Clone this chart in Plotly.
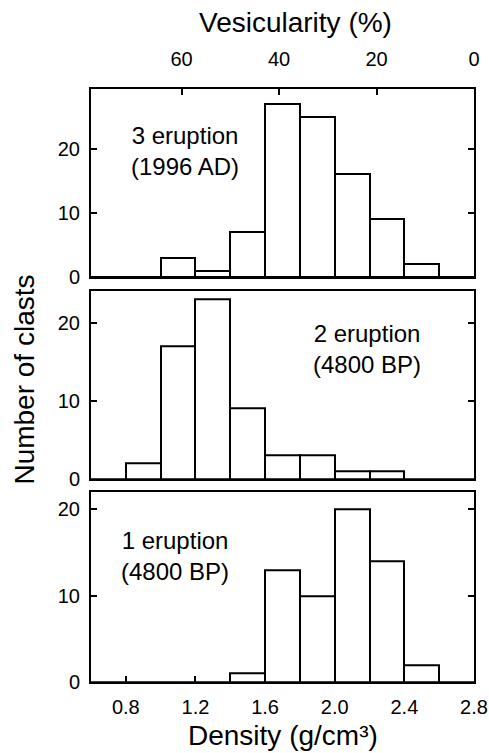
import plotly.graph_objects as go
from plotly.subplots import make_subplots

# Density bins (lower edges, g/cm3), bin width 0.2
bin_starts = [0.6, 0.8, 1.0, 1.2, 1.4, 1.6, 1.8, 2.0, 2.2, 2.4, 2.6]
bin_width = 0.2

# Number of clasts per bin
counts_1996 = [0, 0, 3, 1, 7, 27, 25, 16, 9, 2, 0]
counts_4800_2 = [0, 2, 17, 23, 9, 3, 3, 1, 1, 0, 0]
counts_4800_1 = [0, 0, 0, 0, 1, 13, 10, 20, 14, 2, 0]

panel_labels = ["3 eruption<br>(1996 AD)", "2 eruption<br>(4800 BP)", "1 eruption<br>(4800 BP)"]

density_ticks = [0.8, 1.2, 1.6, 2.0, 2.4, 2.8]
vesicularity_ticks = [60, 40, 20, 0]
dre_density = 2.8  # density at 0 % vesicularity

FONT = "Liberation Sans, Arial, sans-serif"

fig = make_subplots(rows=3, cols=1, shared_xaxes=False, vertical_spacing=0.02)

series = [counts_1996, counts_4800_2, counts_4800_1]
for i, counts in enumerate(series):
    fig.add_trace(go.Bar(
        x=bin_starts, y=counts, width=bin_width, offset=0,
        marker=dict(color="white", line=dict(color="black", width=2)),
        showlegend=False, hoverinfo="skip"), row=i + 1, col=1)

doms = [[0.683, 1.0], [0.342, 0.659], [0.0, 0.320]]
yranges = [[0, 29.3], [0, 24], [0, 22]]

axis_common = dict(showline=True, linecolor="black", linewidth=2, showgrid=False,
                   zeroline=False, range=[0.6, 2.8], mirror=True, automargin=False,
                   tickfont=dict(family=FONT, size=20, color="black"))

# Top panel: vesicularity on top
fig.update_layout(xaxis=dict(**axis_common, side="top", ticks="inside", ticklen=6, tickwidth=1.5,
                             tickcolor="black",
                             tickvals=[dre_density * (1 - v / 100) for v in vesicularity_ticks],
                             ticktext=[str(v) for v in vesicularity_ticks],
                             ticklabelstandoff=13))
fig.update_layout(xaxis2=dict(**axis_common, ticks="", showticklabels=False))
fig.update_layout(xaxis3=dict(**axis_common, ticks="inside", ticklen=6, tickwidth=1.5,
                              tickcolor="black", tickvals=density_ticks,
                              ticktext=["%.1f" % d for d in density_ticks],
                              ticklabelstandoff=6))
for k in range(3):
    key = "yaxis" if k == 0 else "yaxis%d" % (k + 1)
    fig.layout[key].update(domain=doms[k], range=yranges[k], showline=True, linecolor="black",
                           linewidth=2, mirror="ticks", ticks="inside", ticklen=6, tickwidth=1.5,
                           tickcolor="black", tickvals=[0, 10, 20], showgrid=False, zeroline=False,
                           automargin=False,
                           tickfont=dict(family=FONT, size=20, color="black"),
                           ticklabelstandoff=5)

annos = []
label_pos = [(0.245, 0.672), (0.72, 0.69), (0.22, 0.666)]
for k, lbl in enumerate(panel_labels):
    xr = "x domain" if k == 0 else "x%d domain" % (k + 1)
    yr = "y domain" if k == 0 else "y%d domain" % (k + 1)
    annos.append(dict(text=lbl, xref=xr, yref=yr, x=label_pos[k][0], y=label_pos[k][1],
                      showarrow=False, font=dict(family=FONT, size=24, color="black"),
                      xanchor="center", yanchor="middle", align="center"))

annos.append(dict(text="Vesicularity (%)", xref="paper", yref="paper", x=0.535, y=1.0,
                  yshift=67, showarrow=False, yanchor="middle",
                  font=dict(family=FONT, size=28, color="black")))
annos.append(dict(text="Density (g/cm³)", xref="paper", yref="paper", x=0.5, y=0.0,
                  yshift=-53, showarrow=False, yanchor="middle",
                  font=dict(family=FONT, size=28, color="black")))
annos.append(dict(text="Number of clasts", xref="paper", yref="paper", x=0.0, xshift=-66,
                  y=0.51, showarrow=False, textangle=-90, xanchor="center", yanchor="middle",
                  font=dict(family=FONT, size=28, color="black")))

fig.update_layout(width=489, height=753, margin=dict(l=91, r=15, t=89, b=71),
                  paper_bgcolor="white", plot_bgcolor="white", annotations=annos,
                  bargap=0)

fig.write_html("out.html", config={"displayModeBar": False},
               post_script="document.body.style.margin='0';document.body.style.padding='0';"
                           "document.body.style.overflow='hidden';")
